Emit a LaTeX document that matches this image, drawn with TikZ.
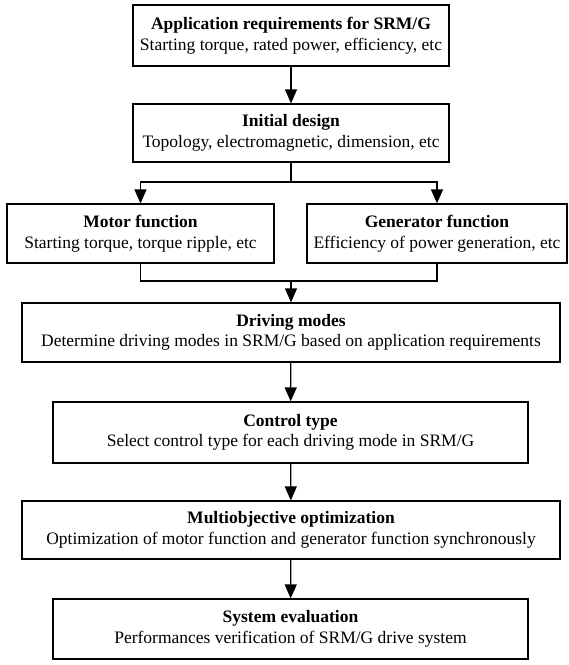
\documentclass[tikz,border=0pt]{standalone}
\usepackage{fontspec}
\setmainfont{Liberation Serif}
\usepackage{tikz}
\usetikzlibrary{arrows.meta,positioning}

\tikzset{
	stagebox/.style={draw,line width=1.2pt,rectangle,align=center,inner sep=2pt,
		font=\fontsize{17.5}{20.5}\selectfont},
	flowarrow/.style={line width=1.2pt,-{Triangle[width=12pt,length=14pt]}},
	flowline/.style={line width=1.2pt}
}
\newcommand{\stagetitle}[1]{\textbf{#1}\\}

\begin{document}
\begin{tikzpicture}[x=1pt,y=-1pt]
	\useasboundingbox (0,0) rectangle (569,665);
	%
	\node[stagebox,minimum width=316pt,minimum height=61pt] (req) at (291,35.5)
		{\stagetitle{Application requirements for SRM/G}Starting torque, rated power, efficiency, etc};
	\node[stagebox,minimum width=316pt,minimum height=58pt] (init) at (291,133)
		{\stagetitle{Initial design}Topology, electromagnetic, dimension, etc};
	\node[stagebox,minimum width=267pt,minimum height=59pt] (motor) at (140.5,233.5)
		{\stagetitle{Motor function}Starting torque, torque ripple, etc};
	\node[stagebox,minimum width=260pt,minimum height=59pt] (gen) at (437,233.5)
		{\stagetitle{Generator function}Efficiency of power generation, etc};
	\node[stagebox,minimum width=538pt,minimum height=59pt] (modes) at (291,332.5)
		{\stagetitle{Driving modes}Determine driving modes in SRM/G based on application requirements};
	\node[stagebox,minimum width=475pt,minimum height=61pt] (ctrl) at (290.5,432.5)
		{\stagetitle{Control type}Select control type for each driving mode in SRM/G};
	\node[stagebox,minimum width=538pt,minimum height=58pt] (opt) at (291,530)
		{\stagetitle{Multiobjective optimization}Optimization of motor function and generator function synchronously};
	\node[stagebox,minimum width=475pt,minimum height=60pt] (eval) at (290.5,629)
		{\stagetitle{System evaluation}Performances verification of SRM/G drive system};
	%
	\coordinate (split) at (291,182);
	\coordinate (merge) at (291,281);
	%
	\draw [flowarrow] (req) -- (init);
	\draw [flowline] (init) -- (split);
	\draw [flowarrow] (split) -| (motor);
	\draw [flowarrow] (split) -| (gen);
	\draw [flowline] (motor) |- (merge) -| (gen);
	\draw [flowarrow] (merge) -- (modes);
	\draw [flowarrow] (modes) -- (ctrl);
	\draw [flowarrow] (ctrl) -- (opt);
	\draw [flowarrow] (opt) -- (eval);
\end{tikzpicture}
\end{document}
